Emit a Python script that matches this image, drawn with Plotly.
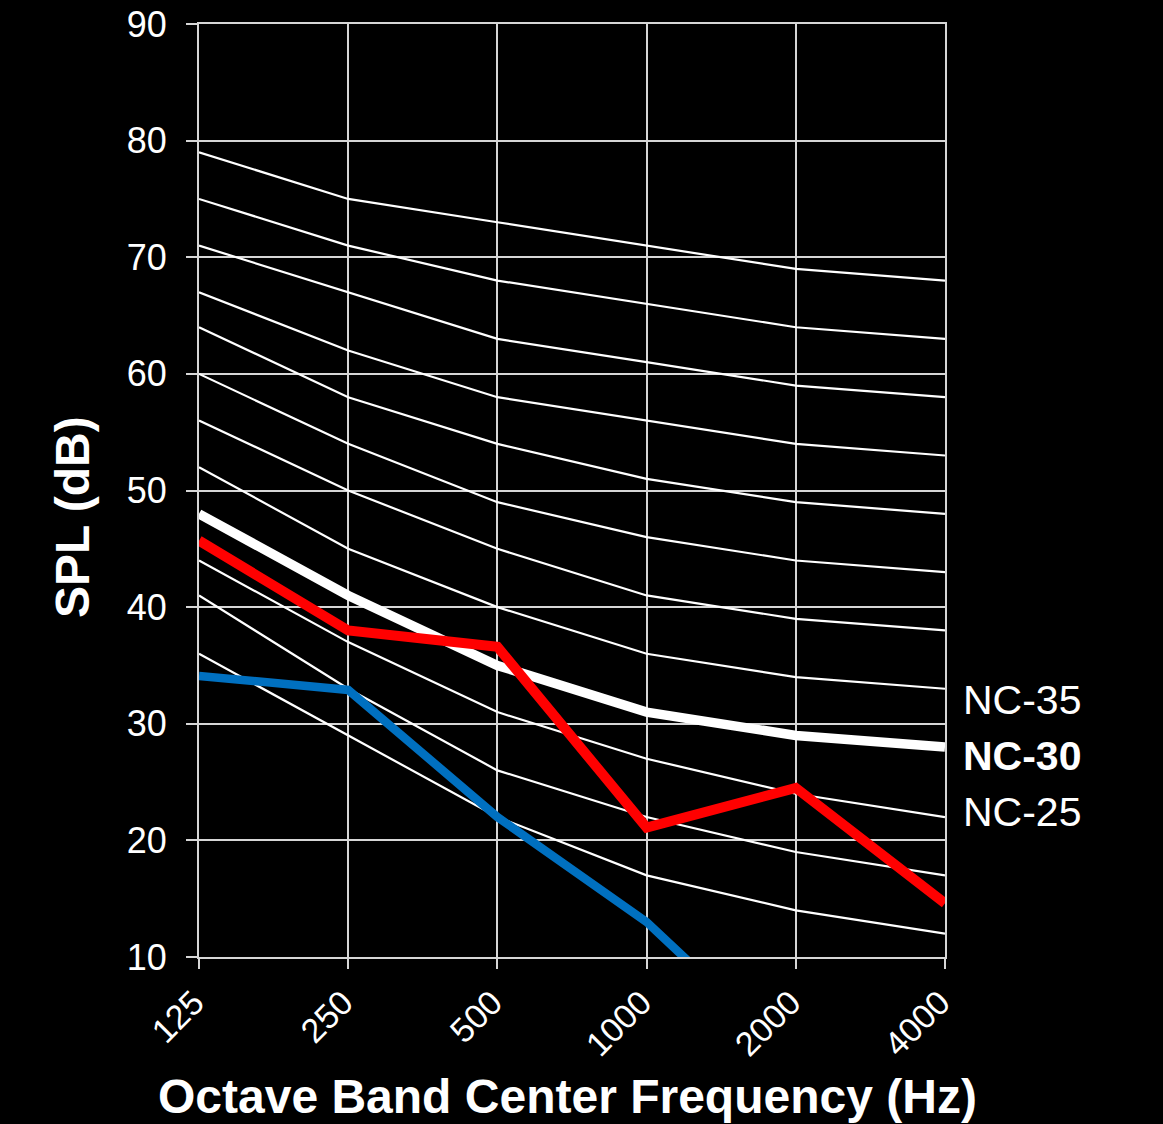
import plotly.graph_objects as go

# ---- data ----
frequencies = ["125", "250", "500", "1000", "2000", "4000"]
nc_70 = [79, 75, 73, 71, 69, 68]
nc_65 = [75, 71, 68, 66, 64, 63]
nc_60 = [71, 67, 63, 61, 59, 58]
nc_55 = [67, 62, 58, 56, 54, 53]
nc_50 = [64, 58, 54, 51, 49, 48]
nc_45 = [60, 54, 49, 46, 44, 43]
nc_40 = [56, 50, 45, 41, 39, 38]
nc_35 = [52, 45, 40, 36, 34, 33]
nc_30 = [48, 41, 35, 31, 29, 28]
nc_25 = [44, 37, 31, 27, 24, 22]
nc_20 = [41, 33, 26, 22, 19, 17]
nc_15 = [36, 29, 22, 17, 14, 12]
red_measured = [45.7, 38.0, 36.6, 21.1, 24.5, 14.6]
blue_measured = [34.1, 32.9, 22.0, 13.0, 1.0, None]
y_ticks = [10, 20, 30, 40, 50, 60, 70, 80, 90]
nc_labels = ["NC-35", "<b>NC-30</b>", "NC-25"]
nc_label_y = [32.0, 27.2, 22.4]
x_title = "Octave Band Center Frequency (Hz)"
y_title = "SPL (dB)"

W, H = 1163, 1124
L, R, T, B = 199, 218, 24, 167
FONT = "Liberation Sans, Arial, sans-serif"
GRID = "#d6d6d6"

fig = go.Figure()

thin_curves = [nc_70, nc_65, nc_60, nc_55, nc_50, nc_45, nc_40, nc_35, nc_25, nc_20, nc_15]
for c in thin_curves:
    fig.add_trace(go.Scatter(x=frequencies, y=c, mode="lines",
                             line=dict(color="white", width=2.2), hoverinfo="skip"))

fig.add_trace(go.Scatter(x=frequencies, y=nc_30, mode="lines",
                         line=dict(color="white", width=9.5), hoverinfo="skip"))
fig.add_trace(go.Scatter(x=frequencies, y=blue_measured, mode="lines",
                         line=dict(color="#0070c0", width=8.5), hoverinfo="skip"))
fig.add_trace(go.Scatter(x=frequencies, y=red_measured, mode="lines",
                         line=dict(color="#ff0000", width=10), hoverinfo="skip"))

plot_w = W - L - R
plot_top, plot_bot = T, H - B
plot_h = plot_bot - plot_top

for txt, yv in zip(nc_labels, nc_label_y):
    fig.add_annotation(text=txt, xref="paper", yref="y",
                       x=(961 - L) / plot_w, y=yv,
                       xanchor="left", yanchor="middle", showarrow=False,
                       font=dict(family=FONT, size=41, color="white"))

# axis titles as annotations for precise placement
fig.add_annotation(text="<b>" + x_title + "</b>", xref="paper", yref="paper",
                   x=(567 - L) / plot_w, y=(plot_bot - 1096) / plot_h,
                   xanchor="center", yanchor="middle", showarrow=False,
                   font=dict(family=FONT, size=48, color="white"))
fig.add_annotation(text="<b>" + y_title + "</b>", xref="paper", yref="paper",
                   x=(72 - L) / plot_w, y=(plot_bot - 517) / plot_h, textangle=-90,
                   xanchor="center", yanchor="middle", showarrow=False,
                   font=dict(family=FONT, size=48, color="white"))

fig.update_layout(
    width=W, height=H,
    margin=dict(l=L, r=R, t=T, b=B, pad=0, autoexpand=False),
    paper_bgcolor="black", plot_bgcolor="black",
    showlegend=False,
    font=dict(family=FONT, color="white"),
    xaxis=dict(type="category", categoryorder="array", categoryarray=frequencies,
               range=[0, 5], showgrid=True, gridcolor=GRID, gridwidth=2,
               showline=True, linecolor=GRID, linewidth=2, mirror=True,
               ticks="outside", ticklen=10, tickcolor=GRID, tickwidth=2,
               tickangle=-45, tickfont=dict(family=FONT, size=34, color="white"),
               ticklabelstandoff=0, ticklabelshift=-5, automargin=False,
               zeroline=False, fixedrange=True),
    yaxis=dict(range=[10, 90], tickvals=y_ticks, showgrid=True, gridcolor=GRID,
               gridwidth=2, showline=True, linecolor=GRID, linewidth=2, mirror=True,
               ticks="outside", ticklen=11, tickcolor=GRID, tickwidth=2,
               tickfont=dict(family=FONT, size=36, color="white"),
               ticklabelstandoff=12, automargin=False,
               zeroline=False, fixedrange=True),
)

fig.write_html("out.html", config={"displayModeBar": False},
               post_script="document.body.style.margin='0';document.body.style.background='black';")
